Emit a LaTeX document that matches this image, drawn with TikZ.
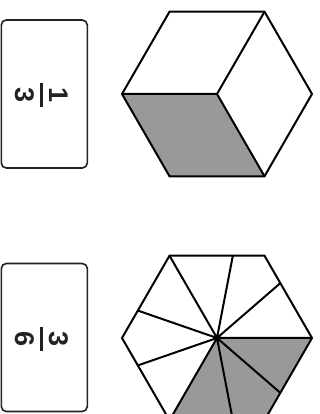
\documentclass[tikz,border=0pt]{standalone}
\usepackage{fontspec}
\setmainfont{Liberation Sans}
\usetikzlibrary{calc,shapes.geometric,backgrounds}
\definecolor{ink}{RGB}{34,34,34}
\definecolor{pgray}{RGB}{153,153,153}
\tikzset{
  card/.style={draw=ink,line width=1.6pt,rounded corners=5pt,minimum width=86pt,minimum height=148pt},
  hexa/.style={draw=black,line width=2pt,regular polygon,regular polygon sides=6,minimum size=190pt,inner sep=0pt,outer sep=0pt},
  digit/.style={inner sep=0pt,text=ink,font=\fontsize{27}{27}\selectfont\bfseries},
  fbar/.style={draw=ink,line width=2.4pt},
  ray/.style={line width=2pt},
}

\begin{document}
\begin{tikzpicture}[x=1pt,y=1pt]
  \clip (0,0) rectangle (320,414);
  % top row: one third
  \node[card] (c1) at (44.3,320) {};
  \begin{scope}[shift={(41.5,318.5)},rotate=-90,transform shape]
    \node[digit] (n1) at (0,17) {1};
    \node[digit] (d1) at (0,-16.5) {3};
    \draw[fbar] (-12,0) -- (12,0);
  \end{scope}
  \node[hexa] (h1) at (217,320) {};
  \begin{scope}[on background layer]
    \fill[pgray] (h1.center) -- (h1.corner 3) -- (h1.corner 4) -- (h1.corner 5) -- cycle;
  \end{scope}
  \draw[ray] (h1.corner 1) -- (h1.center) -- (h1.corner 3)
             (h1.center) -- (h1.corner 5);

  % bottom row: nine pieces
  \node[card] (c2) at (44.3,76.5) {};
  \begin{scope}[shift={(41.5,74.5)},rotate=-90,transform shape]
    \node[digit] (n2) at (0,17) {3};
    \node[digit] (d2) at (0,-16.5) {6};
    \draw[fbar] (-12,0) -- (12,0);
  \end{scope}
  \node[hexa] (h2) at (217,76) {};
  \coordinate (p1) at ($(h2.corner 2)!2/3!(h2.corner 1)$);
  \coordinate (p2) at ($(h2.corner 1)!1/3!(h2.corner 6)$);
  \coordinate (p4) at ($(h2.corner 6)!2/3!(h2.corner 5)$);
  \coordinate (p5) at ($(h2.corner 5)!1/3!(h2.corner 4)$);
  \coordinate (p7) at ($(h2.corner 4)!2/3!(h2.corner 3)$);
  \coordinate (p8) at ($(h2.corner 3)!1/3!(h2.corner 2)$);
  \begin{scope}[on background layer]
    \fill[pgray] (h2.center) -- (h2.corner 6) -- (p4) -- (h2.corner 5) -- (p5) -- (h2.corner 4) -- cycle;
  \end{scope}
  \draw[ray] (h2.center) -- (h2.corner 2) (h2.center) -- (p1)
             (h2.center) -- (p2) (h2.center) -- (h2.corner 6)
             (h2.center) -- (p4) (h2.center) -- (p5)
             (h2.center) -- (h2.corner 4) (h2.center) -- (p7)
             (h2.center) -- (p8);
\end{tikzpicture}
\end{document}
